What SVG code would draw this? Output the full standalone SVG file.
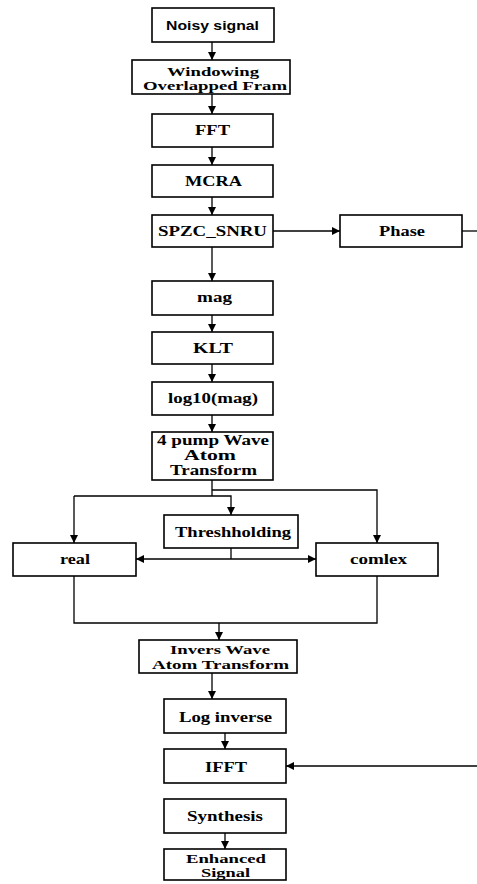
<svg xmlns="http://www.w3.org/2000/svg" width="477" height="884" viewBox="0 0 477 884">
  <style>
    .box { fill: #fff; stroke: #000; stroke-width: 1.6; }
    .lbl { font-family: "Liberation Serif", "Times New Roman", serif; font-weight: bold; font-size: 15px; fill: #000; }
    .lbl.tight { font-size: 13px; }
    .lbl.mid { font-size: 14px; }
    .sans { font-family: "Liberation Sans", Arial, sans-serif; font-weight: bold; font-size: 13.5px; fill: #000; }
    .wire { fill: none; stroke: #000; stroke-width: 1.3; }
  </style>
  <defs>
    <marker id="arrow" viewBox="0 0 10 10" refX="10" refY="5" markerWidth="8" markerHeight="8" markerUnits="userSpaceOnUse" orient="auto">
      <path d="M0,0 L10,5 L0,10 Z" fill="#000"/>
    </marker>
  </defs>
  <rect width="477" height="884" fill="#fff"/>

  <!-- connectors -->
  <g id="connectors">
    <line class="wire" x1="212" y1="42" x2="212" y2="60" marker-end="url(#arrow)"/>
    <line class="wire" x1="212" y1="94" x2="212" y2="114" marker-end="url(#arrow)"/>
    <line class="wire" x1="212" y1="147" x2="212" y2="165" marker-end="url(#arrow)"/>
    <line class="wire" x1="212" y1="197" x2="212" y2="215" marker-end="url(#arrow)"/>
    <line class="wire" x1="273" y1="231" x2="340" y2="231" marker-end="url(#arrow)"/>
    <line class="wire" x1="462" y1="231" x2="477" y2="231"/>
    <line class="wire" x1="212" y1="247" x2="212" y2="281" marker-end="url(#arrow)"/>
    <line class="wire" x1="212" y1="315" x2="212" y2="332" marker-end="url(#arrow)"/>
    <line class="wire" x1="212" y1="364" x2="212" y2="382" marker-end="url(#arrow)"/>
    <line class="wire" x1="212" y1="415" x2="212" y2="432" marker-end="url(#arrow)"/>
    <!-- split after the wave atom transform -->
    <line class="wire" x1="212" y1="480" x2="212" y2="496"/>
    <polyline class="wire" points="212,490 377,490 377,543" marker-end="url(#arrow)"/>
    <polyline class="wire" points="74,496 74,543" marker-end="url(#arrow)"/>
    <polyline class="wire" points="74,496 231,496 231,515" marker-end="url(#arrow)"/>
    <!-- threshold feeds both branches -->
    <line class="wire" x1="231" y1="548" x2="231" y2="559"/>
    <line class="wire" x1="231" y1="559" x2="136" y2="559" marker-end="url(#arrow)"/>
    <line class="wire" x1="231" y1="559" x2="316" y2="559" marker-end="url(#arrow)"/>
    <!-- branches merge -->
    <polyline class="wire" points="74,576 74,623 377,623 377,576"/>
    <line class="wire" x1="219" y1="623" x2="219" y2="640" marker-end="url(#arrow)"/>
    <line class="wire" x1="212" y1="673" x2="212" y2="699" marker-end="url(#arrow)"/>
    <line class="wire" x1="225" y1="733" x2="225" y2="749" marker-end="url(#arrow)"/>
    <line class="wire" x1="477" y1="766" x2="286" y2="766" marker-end="url(#arrow)"/>
    <line class="wire" x1="225" y1="833" x2="225" y2="849" marker-end="url(#arrow)"/>
  </g>

  <g id="noisy-signal">
    <rect class="box" x="152" y="8" width="122" height="34"/>
    <text class="sans" x="166" y="30" textLength="93" lengthAdjust="spacingAndGlyphs">Noisy signal</text>
  </g>
  <g id="windowing">
    <rect class="box" x="132" y="60" width="158" height="34"/>
    <text class="lbl tight" x="167" y="76" textLength="92" lengthAdjust="spacingAndGlyphs">Windowing</text>
    <text class="lbl tight" x="143" y="90" textLength="144" lengthAdjust="spacingAndGlyphs">Overlapped Fram</text>
  </g>
  <g id="fft">
    <rect class="box" x="152" y="114" width="121" height="33"/>
    <text class="lbl" x="195" y="135" textLength="35" lengthAdjust="spacingAndGlyphs">FFT</text>
  </g>
  <g id="mcra">
    <rect class="box" x="152" y="165" width="121" height="32"/>
    <text class="lbl" x="185" y="186" textLength="57" lengthAdjust="spacingAndGlyphs">MCRA</text>
  </g>
  <g id="spzc-snru">
    <rect class="box" x="152" y="215" width="121" height="32"/>
    <text class="lbl" x="158" y="236" textLength="109" lengthAdjust="spacingAndGlyphs">SPZC_SNRU</text>
  </g>
  <g id="phase">
    <rect class="box" x="340" y="215" width="122" height="32"/>
    <text class="lbl" x="379" y="236" textLength="46" lengthAdjust="spacingAndGlyphs">Phase</text>
  </g>
  <g id="mag">
    <rect class="box" x="152" y="281" width="121" height="34"/>
    <text class="lbl" x="197" y="302" textLength="35" lengthAdjust="spacingAndGlyphs">mag</text>
  </g>
  <g id="klt">
    <rect class="box" x="152" y="332" width="121" height="32"/>
    <text class="lbl" x="193" y="353" textLength="40" lengthAdjust="spacingAndGlyphs">KLT</text>
  </g>
  <g id="log10-mag">
    <rect class="box" x="152" y="382" width="121" height="33"/>
    <text class="lbl" x="168" y="403" textLength="90" lengthAdjust="spacingAndGlyphs">log10(mag)</text>
  </g>
  <g id="wave-atom-transform">
    <rect class="box" x="152" y="432" width="121" height="48"/>
    <text class="lbl mid" x="157" y="445" textLength="112" lengthAdjust="spacingAndGlyphs">4 pump Wave</text>
    <text class="lbl mid" x="184" y="460" textLength="52" lengthAdjust="spacingAndGlyphs">Atom</text>
    <text class="lbl mid" x="170" y="475" textLength="87" lengthAdjust="spacingAndGlyphs">Transform</text>
  </g>
  <g id="threshholding">
    <rect class="box" x="164" y="515" width="134" height="33"/>
    <text class="lbl" x="175" y="537" textLength="116" lengthAdjust="spacingAndGlyphs">Threshholding</text>
  </g>
  <g id="real">
    <rect class="box" x="13" y="543" width="123" height="33"/>
    <text class="lbl" x="60" y="564" textLength="30" lengthAdjust="spacingAndGlyphs">real</text>
  </g>
  <g id="comlex">
    <rect class="box" x="316" y="543" width="122" height="33"/>
    <text class="lbl" x="350" y="564" textLength="57" lengthAdjust="spacingAndGlyphs">comlex</text>
  </g>
  <g id="inverse-wave-atom">
    <rect class="box" x="139" y="640" width="158" height="33"/>
    <text class="lbl tight" x="170" y="654" textLength="100" lengthAdjust="spacingAndGlyphs">Invers Wave</text>
    <text class="lbl tight" x="152" y="669" textLength="137" lengthAdjust="spacingAndGlyphs">Atom Transform</text>
  </g>
  <g id="log-inverse">
    <rect class="box" x="164" y="699" width="122" height="34"/>
    <text class="lbl" x="179" y="722" textLength="93" lengthAdjust="spacingAndGlyphs">Log inverse</text>
  </g>
  <g id="ifft">
    <rect class="box" x="164" y="749" width="122" height="34"/>
    <text class="lbl" x="205" y="772" textLength="42" lengthAdjust="spacingAndGlyphs">IFFT</text>
  </g>
  <g id="synthesis">
    <rect class="box" x="164" y="799" width="122" height="34"/>
    <text class="lbl" x="187" y="821" textLength="76" lengthAdjust="spacingAndGlyphs">Synthesis</text>
  </g>
  <g id="enhanced-signal">
    <rect class="box" x="164" y="849" width="122" height="31"/>
    <text class="lbl tight" x="186" y="863" textLength="80" lengthAdjust="spacingAndGlyphs">Enhanced</text>
    <text class="lbl tight" x="201" y="877" textLength="49" lengthAdjust="spacingAndGlyphs">Signal</text>
  </g>
</svg>
